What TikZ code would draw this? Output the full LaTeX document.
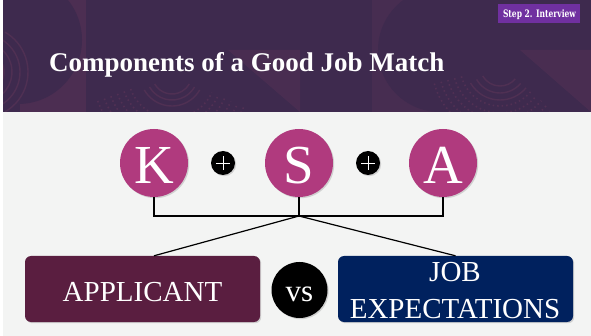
\documentclass[tikz,border=0pt]{standalone}
\usepackage{fontspec}
\setmainfont{Liberation Serif}
\newfontfamily\badgefont{DejaVu Serif Condensed}
\usetikzlibrary{shadows}

\definecolor{headerbg}{HTML}{3E2A4E}
\definecolor{pagebg}{HTML}{F3F4F3}
\definecolor{ksa}{HTML}{B03A7E}
\definecolor{applicantbg}{HTML}{5A1E40}
\definecolor{jobbg}{HTML}{00215E}
\definecolor{badgebg}{HTML}{7030A0}
\definecolor{deco}{HTML}{5E3558}

\tikzset{
  softshadow/.style={drop shadow={opacity=0.3, shadow xshift=1.2pt, shadow yshift=-1.2pt}},
  letterdisc/.style={circle, fill=ksa, minimum size=68pt, inner sep=0pt, softshadow},
  lettertext/.style={text=white, font=\fontsize{55}{60}\selectfont, inner sep=0pt, anchor=base},
  plusdisc/.style={circle, fill=black, minimum size=24pt, inner sep=0pt, softshadow},
  plusmark/.style={draw=white, line width=0.8pt},
  outcomebox/.style={rectangle, rounded corners=6pt, minimum width=235pt, minimum height=66pt, inner sep=0pt, softshadow},
  boxtext/.style={text=white, font=\fontsize{29}{36}\selectfont, inner sep=0pt, align=center},
  connector/.style={draw=black, line width=1.2pt},
  decoarc/.style={draw=deco, line width=1.4pt, opacity=0.55},
  decodots/.style={draw=deco, line width=1.6pt, opacity=0.6, dash pattern=on 1.5pt off 3pt},
}

\begin{document}
\begin{tikzpicture}[x=1pt, y=-1pt]
  \useasboundingbox (0,0) rectangle (591,336);
  \fill[white] (0,0) rectangle (591,336);
  \fill[pagebg] (3,0) rectangle (591,336);

  % header band with its faint ornament
  \fill[headerbg] (3,0) rectangle (591,112);
  \begin{scope}
    \clip (3,0) rectangle (591,112);
    \fill[deco, opacity=0.45] (20,0) rectangle (86,112);
    \fill[headerbg] (18,40) circle (64);
    \foreach \r in {22,30,38,46} \draw[decoarc] (-18,72) ++(60:\r) arc[start angle=60, end angle=-60, radius=\r];
    \foreach \r in {44,51,58,65,72,79} \draw[decodots] (172,74) ++(160:\r) arc[start angle=160, end angle=25, radius=\r];
    \foreach \r in {20,26,32} \draw[decoarc] (172,74) ++(150:\r) arc[start angle=150, end angle=30, radius=\r];
    \fill[deco, opacity=0.35] (228,50) -- (300,50) -- (300,112) -- cycle;
    \foreach \r in {50,58,66,74} \draw[decoarc, opacity=0.35] (336,112) ++(170:\r) arc[start angle=170, end angle=100, radius=\r];
    \fill[deco, opacity=0.3] (372,0) rectangle (440,112);
    \fill[headerbg] (440,50) circle (62);
    \foreach \r in {40,47,54,61,68} \draw[decodots] (500,66) ++(165:\r) arc[start angle=165, end angle=40, radius=\r];
    \foreach \r in {20,27,34} \draw[decoarc] (500,66) ++(150:\r) arc[start angle=150, end angle=40, radius=\r];
    \fill[deco, opacity=0.35] (520,50) -- (591,50) -- (591,112) -- cycle;
  \end{scope}

  % title and step badge
  \node[text=white, font=\bfseries\fontsize{27}{30}\selectfont, inner sep=0pt, anchor=base west] (title) at (49,72) {Components of a Good Job Match};
  \node[fill=badgebg, minimum width=82pt, minimum height=19pt, inner sep=0pt] (badge) at (539,13.5) {};
  \node[text=white, inner sep=0pt, anchor=base] (badgetext) at (539.5,17.5) {\resizebox{73pt}{7.8pt}{\badgefont\bfseries Step 2. Interview}};

  % knowledge + skills + abilities
  \node[letterdisc] (K) at (154,163) {};
  \node[letterdisc] (S) at (299,163) {};
  \node[letterdisc] (A) at (443,163) {};
  \node[lettertext] (Ktext) at (154,184) {K};
  \node[lettertext] (Stext) at (299,184) {S};
  \node[lettertext] (Atext) at (443,184) {A};

  \node[plusdisc] (plusA) at (223,163) {};
  \node[plusdisc] (plusB) at (368,163) {};
  \foreach \p in {plusA, plusB} {
    \draw[plusmark] ([xshift=-7pt]\p.center) -- ([xshift=7pt]\p.center);
    \draw[plusmark] ([yshift=-7pt]\p.center) -- ([yshift=7pt]\p.center);
  }

  % applicant versus job expectations
  \node[outcomebox, fill=applicantbg] (app) at (142.5,289) {};
  \node[outcomebox, fill=jobbg] (job) at (455.5,289) {};
  \node[circle, fill=black, minimum size=56pt, inner sep=0pt, softshadow] (vs) at (299.5,290) {};
  \node[boxtext, anchor=base] (apptext) at (142.5,301.5) {APPLICANT};
  \node[boxtext, anchor=base] (jobtext1) at (455,282) {JOB};
  \node[boxtext, anchor=base] (jobtext2) at (455,318) {EXPECTATIONS};
  \node[text=white, font=\fontsize{31}{34}\selectfont, inner sep=0pt, anchor=base] (vstext) at (299.5,301.5) {vs};

  % bracket joining K, S and A, then splitting to both boxes
  \coordinate (j) at (299,216);
  \draw[connector] (K.south) |- (j) -| (A.south);
  \draw[connector] (S.south) -- (j);
  \draw[connector] (j) -- (app.north -| K);
  \draw[connector] (j) -- (job.north);
\end{tikzpicture}
\end{document}
